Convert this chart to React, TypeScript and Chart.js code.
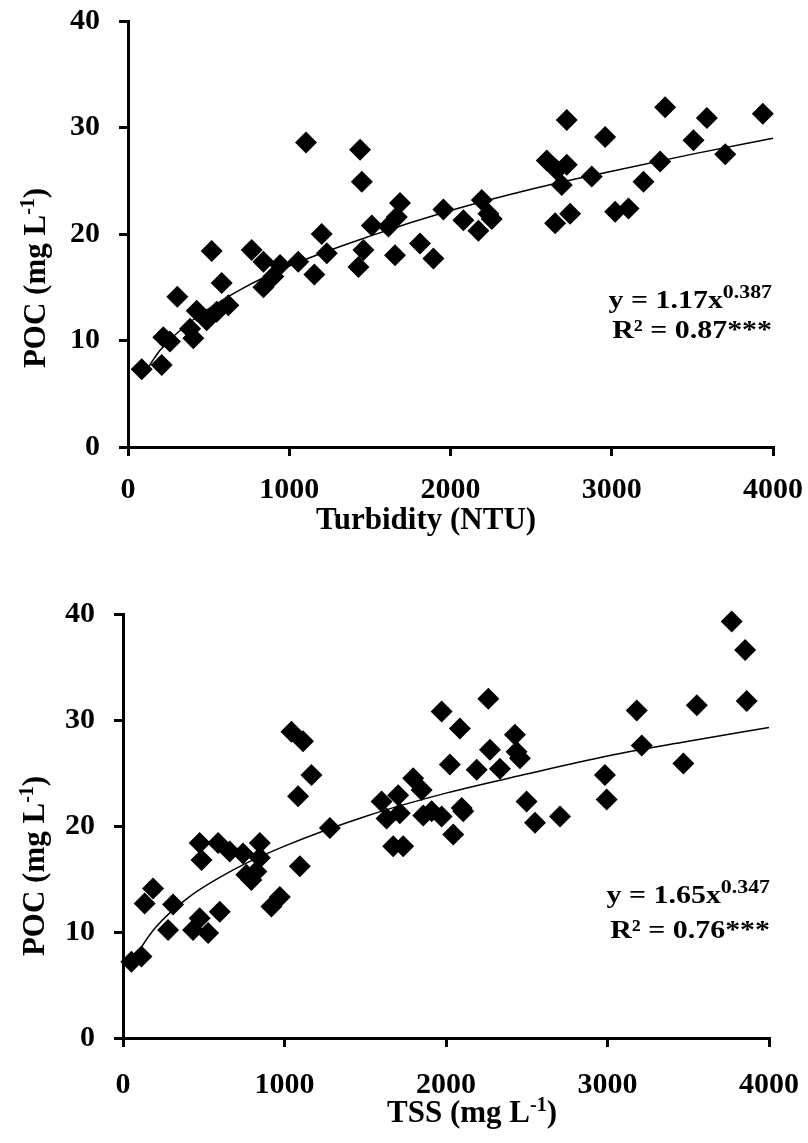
import React, { useEffect, useRef } from 'react';
import { Chart, registerables } from 'chart.js';

Chart.register(...registerables);

// ---------- data ----------
const turbidityNTU = [
  85, 209, 219, 260, 306, 405, 426, 385, 488, 519, 581, 550, 622, 767, 840, 840, 901, 943, 1056, 1104,
  1156, 1201, 1233, 1439, 1450, 1429, 1460, 1512, 1615, 1687, 1656, 1667, 1811, 1894, 1956, 2080, 2194,
  2173, 2256, 2235, 2721, 2597, 2659, 2721, 2690, 2649, 2742, 2876, 2959, 3021, 3104, 3197, 3300, 3331,
  3507, 3590, 3704, 3937,
];
const pocVsTurbidity = [
  7.3, 7.7, 10.3, 9.9, 14.1, 10.2, 12.8, 11.1, 11.9, 18.4, 15.4, 12.7, 13.3, 18.5, 17.4, 15.0, 16.0, 17.1, 17.4, 28.6,
  16.2, 20.0, 18.2, 27.9, 24.9, 16.9, 18.5, 20.8, 20.7, 22.9, 18.0, 21.6, 19.1, 17.7, 22.3, 21.3, 23.2,
  20.3, 21.4, 21.9, 30.7, 26.9, 26.0, 26.5, 24.6, 21.0, 21.9, 25.4, 29.1, 22.1, 22.4, 24.9, 26.8, 31.9,
  28.8, 30.9, 27.5, 31.3,
];

const tssMgL = [
  52, 114, 134, 186, 279, 310, 434, 475, 527, 599, 475, 486, 589, 661, 743, 847, 847, 764, 795, 826,
  919, 971, 1043, 1115, 1167, 1084, 1095, 1281, 1601, 1704, 1632, 1714, 1673, 1735, 1797, 1849, 1859,
  1911, 1973, 1973, 2024, 2086, 2045, 2097, 2107, 2190, 2262, 2272, 2334, 2427, 2437, 2458, 2499, 2551,
  2706, 2984, 2995, 3181, 3212, 3470, 3553, 3769, 3852, 3862,
];
const pocVsTss = [
  7.2, 7.7, 12.7, 14.1, 10.2, 12.6, 10.2, 11.3, 9.9, 11.9, 18.4, 16.8, 18.4, 17.6, 17.4, 18.4, 17.0, 15.4, 14.9, 15.7,
  12.4, 13.3, 28.9, 28.0, 24.8, 22.8, 16.2, 19.8, 22.3, 22.9, 20.7, 21.2, 18.1, 18.1, 24.5, 23.4, 21.0,
  21.4, 20.9, 30.8, 25.8, 29.2, 19.2, 21.7, 21.4, 25.3, 32.0, 27.2, 25.4, 28.6, 27.0, 26.4, 22.3, 20.3,
  20.9, 24.8, 22.5, 30.9, 27.6, 25.9, 31.4, 39.3, 36.6, 31.8,
];

// trend lines
const turbFitX = [85, 200, 400, 700, 1000, 1500, 2000, 2500, 3000, 3500, 4000];
const turbFitY = [6.5, 9.1, 11.9, 14.8, 17.0, 19.8, 22.2, 24.2, 25.9, 27.5, 29.0];
const tssFitX = [80, 100, 200, 400, 700, 1000, 1500, 2000, 2500, 3000, 3500, 4000];
const tssFitY = [7.6, 8.2, 10.4, 13.2, 16.0, 18.1, 20.9, 23.1, 24.9, 26.6, 28.0, 29.3];

const xTickValues = [0, 1000, 2000, 3000, 4000];
const yTickValues = [0, 10, 20, 30, 40];

// ---------- drawing helpers ----------
const FONT = '"Liberation Serif", "Times New Roman", Times, serif';
type Seg = { t: string; sup?: boolean };

function drawSegs(
  ctx: CanvasRenderingContext2D,
  segs: Seg[],
  x: number,
  y: number,
  align: 'left' | 'center' | 'right',
  size: number,
  supSize: number,
  supRise: number,
  sx = 1
) {
  const widths = segs.map((s) => {
    ctx.font = `bold ${s.sup ? supSize : size}px ${FONT}`;
    return ctx.measureText(s.t).width;
  });
  const total = widths.reduce((a, b) => a + b, 0) * sx;
  let cx = align === 'center' ? x - total / 2 : align === 'right' ? x - total : x;
  segs.forEach((s, i) => {
    ctx.save();
    ctx.font = `bold ${s.sup ? supSize : size}px ${FONT}`;
    ctx.fillStyle = '#000';
    ctx.textAlign = 'left';
    ctx.textBaseline = 'alphabetic';
    ctx.translate(cx, s.sup ? y - supRise : y);
    ctx.scale(sx, 1);
    ctx.fillText(s.t, 0, 0);
    ctx.restore();
    cx += widths[i] * sx;
  });
}

type Panel = {
  height: number;
  area: { l: number; r: number; t: number; b: number };
  xs: number[];
  ys: number[];
  fitX: number[];
  fitY: number[];
  xTickPad: number;
  xTitle: Seg[];
  xTitlePos: [number, number];
  yTitlePos: [number, number];
  eq1: Seg[];
  eq2: Seg[];
  eqRight: number;
  eqBase: [number, number];
};

const yTitleSegs: Seg[] = [{ t: 'POC (mg L' }, { t: '-1', sup: true }, { t: ')' }];

const panels: Panel[] = [
  {
    height: 575,
    area: { l: 128, r: 773, t: 21, b: 447 },
    xs: turbidityNTU,
    ys: pocVsTurbidity,
    fitX: turbFitX,
    fitY: turbFitY,
    xTickPad: 16,
    xTitle: [{ t: 'Turbidity (NTU)' }],
    xTitlePos: [426, 529],
    yTitlePos: [45, 278],
    eq1: [{ t: 'y = 1.17x' }, { t: '0.387', sup: true }],
    eq2: [{ t: 'R² = 0.87***' }],
    eqRight: 772,
    eqBase: [308, 338],
  },
  {
    height: 568,
    area: { l: 123, r: 769, t: 39, b: 463 },
    xs: tssMgL,
    ys: pocVsTss,
    fitX: tssFitX,
    fitY: tssFitY,
    xTickPad: 20,
    xTitle: [{ t: 'TSS (mg L' }, { t: '-1', sup: true }, { t: ')' }],
    xTitlePos: [472, 547],
    yTitlePos: [44, 291],
    eq1: [{ t: 'y = 1.65x' }, { t: '0.347', sup: true }],
    eq2: [{ t: 'R² = 0.76***' }],
    eqRight: 770,
    eqBase: [328, 363],
  },
];

function ScatterPanel({ p }: { p: Panel }) {
  const ref = useRef<HTMLCanvasElement | null>(null);
  useEffect(() => {
    const canvas = ref.current;
    if (!canvas) return;
    let chart: Chart | null = null;
    let cancelled = false;
    const W = 808;

    const build = () => {
      if (cancelled) return;
      const textPlugin = {
        id: 'texts',
        afterDraw(c: any) {
          const ctx: CanvasRenderingContext2D = c.ctx;
          ctx.save();
          drawSegs(ctx, p.xTitle, p.xTitlePos[0], p.xTitlePos[1], 'center', 31, 20, 11);
          ctx.save();
          ctx.translate(p.yTitlePos[0], p.yTitlePos[1]);
          ctx.rotate(-Math.PI / 2);
          drawSegs(ctx, yTitleSegs, 0, 0, 'center', 31, 20, 11);
          ctx.restore();
          drawSegs(ctx, p.eq1, p.eqRight, p.eqBase[0], 'right', 26, 19, 10, 1.15);
          drawSegs(ctx, p.eq2, p.eqRight, p.eqBase[1], 'right', 26, 19, 10, 1.15);
          ctx.restore();
        },
      };
      const tickFont = { family: FONT, size: 30, weight: 'bold' as const };
      chart = new Chart(canvas, {
        type: 'scatter',
        data: {
          datasets: [
            {
              type: 'line',
              data: p.fitX.map((x, i) => ({ x, y: p.fitY[i] })),
              borderColor: '#000',
              borderWidth: 1.5,
              pointRadius: 0,
              tension: 0.4,
              cubicInterpolationMode: 'monotone',
              fill: false,
              clip: false,
            },
            {
              data: p.xs.map((x, i) => ({ x, y: p.ys[i] })),
              pointStyle: 'rectRot',
              pointRadius: 11,
              pointBorderWidth: 0,
              backgroundColor: '#000',
              borderColor: '#000',
              clip: false,
            },
          ],
        },
        options: {
          responsive: false,
          animation: false,
          events: [],
          layout: {
            padding: { left: 0, top: p.area.t, right: W - p.area.r, bottom: 0 },
          },
          plugins: {
            legend: { display: false },
            tooltip: { enabled: false },
            title: { display: false },
          },
          scales: {
            x: {
              type: 'linear',
              min: 0,
              max: 4000,
              afterBuildTicks: (scale: any) => {
                scale.ticks = xTickValues.map((v) => ({ value: v }));
              },
              afterFit: (scale: any) => {
                scale.height = p.height - p.area.b;
                scale.paddingLeft = 0;
                scale.paddingRight = 0;
              },
              ticks: {
                color: '#000',
                font: tickFont,
                padding: p.xTickPad,
                maxRotation: 0,
                callback: (v: any) => String(v),
              },
              grid: { drawOnChartArea: false, drawTicks: true, tickLength: 9, lineWidth: 3, color: '#000' },
              border: { display: true, width: 3, color: '#000' },
            },
            y: {
              type: 'linear',
              min: 0,
              max: 40,
              afterBuildTicks: (scale: any) => {
                scale.ticks = yTickValues.map((v) => ({ value: v }));
              },
              afterFit: (scale: any) => {
                scale.width = p.area.l;
                scale.paddingTop = 0;
                scale.paddingBottom = 0;
              },
              ticks: { color: '#000', font: tickFont, padding: 19, callback: (v: any) => String(v) },
              grid: { drawOnChartArea: false, drawTicks: true, tickLength: 9, lineWidth: 3, color: '#000' },
              border: { display: true, width: 3, color: '#000' },
            },
          },
        },
        plugins: [textPlugin],
      } as any);
    };

    const fonts: any = (document as any).fonts;
    if (fonts && fonts.load) {
      Promise.all([
        fonts.load('bold 30px "Liberation Serif"'),
        fonts.load('30px "Liberation Serif"'),
      ])
        .catch(() => null)
        .then(build);
    } else {
      build();
    }
    return () => {
      cancelled = true;
      if (chart) chart.destroy();
    };
  }, [p]);
  return (
    <canvas
      ref={ref}
      width={808}
      height={p.height}
      style={{ display: 'block', width: 808, height: p.height }}
    />
  );
}

export default function App() {
  return (
    <div style={{ position: 'absolute', left: 0, top: 0, width: 808, height: 1143, background: '#fff' }}>
      {panels.map((p, i) => (
        <ScatterPanel key={i} p={p} />
      ))}
    </div>
  );
}
